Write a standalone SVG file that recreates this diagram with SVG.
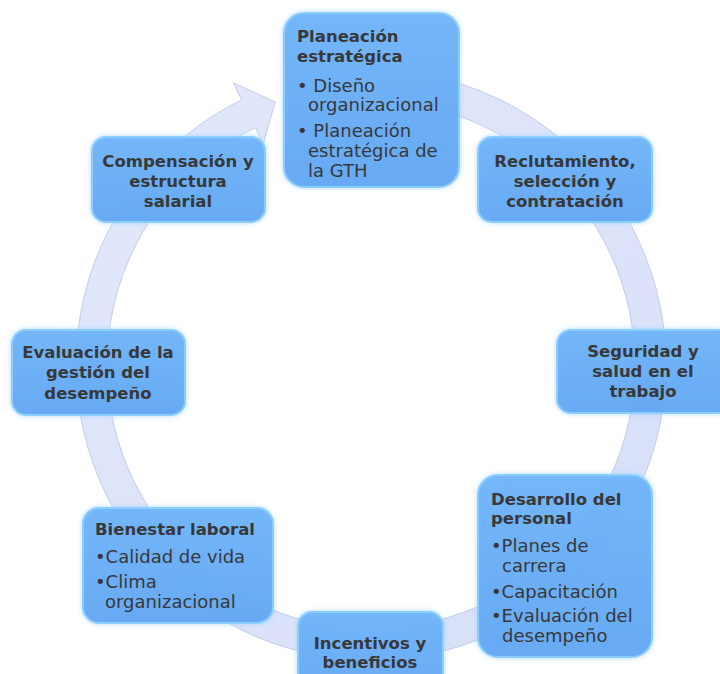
<svg xmlns="http://www.w3.org/2000/svg" width="720" height="674" viewBox="0 0 720 674">
  <defs>
    <linearGradient id="boxFill" x1="0" y1="0" x2="0" y2="1">
      <stop offset="0" stop-color="#6ab1f8"/>
      <stop offset="1" stop-color="#5aa2f2"/>
    </linearGradient>
    <linearGradient id="ringFill" x1="0" y1="0" x2="1" y2="1">
      <stop offset="0" stop-color="#dfe6fb"/>
      <stop offset="1" stop-color="#d2dbf6"/>
    </linearGradient>
    <filter id="glow" x="-15%" y="-15%" width="130%" height="130%">
      <feGaussianBlur in="SourceAlpha" stdDeviation="2.5" result="b"/>
      <feFlood flood-color="#9fd4ff" flood-opacity="0.9"/>
      <feComposite in2="b" operator="in" result="g"/>
      <feMerge>
        <feMergeNode in="g"/>
        <feMergeNode in="SourceGraphic"/>
      </feMerge>
    </filter>
  </defs>
  <style>
    .box { fill: url(#boxFill); fill-opacity: 0.88; stroke: #8ccdff; stroke-width: 2; filter: url(#glow); }
    .t { font-family: "DejaVu Sans", "Liberation Sans", sans-serif; fill: #383838; }
    .h { font-size: 16.5px; font-weight: bold; }
    .b { font-size: 18px; }
    .c { text-anchor: middle; }
  </style>

  <rect width="720" height="674" fill="#ffffff"/>

  <!-- circular arrow running clockwise round the cycle -->
  <g id="connectors">
    <path d="M430.8,76.1 A295,295 0 1 1 241.7,99.9 L233.3,82.8 L275.2,101.9 L263.2,143.9 L255.3,127.7 A264,264 0 1 0 424.5,106.5 Z"
          fill="url(#ringFill)" fill-opacity="0.9" stroke="#c3cce9" stroke-width="1"/>
  </g>

  <g id="planeacion">
    <rect class="box" x="284" y="13" width="175" height="174" rx="20"/>
    <text class="t h" x="297" y="42">Planeación</text>
    <text class="t h" x="297" y="62">estratégica</text>
    <text class="t b" x="297" y="92">• Diseño</text>
    <text class="t b" x="308" y="111">organizacional</text>
    <text class="t b" x="297" y="137">• Planeación</text>
    <text class="t b" x="308" y="157">estratégica de</text>
    <text class="t b" x="308" y="177">la GTH</text>
  </g>

  <g id="reclutamiento">
    <rect class="box" x="478" y="137" width="174" height="85" rx="14"/>
    <text class="t h c" x="565" y="167">Reclutamiento,</text>
    <text class="t h c" x="565" y="187">selección y</text>
    <text class="t h c" x="565" y="207">contratación</text>
  </g>

  <g id="seguridad">
    <rect class="box" x="557" y="330" width="175" height="83" rx="14"/>
    <text class="t h c" x="643" y="357">Seguridad y</text>
    <text class="t h c" x="643" y="377">salud en el</text>
    <text class="t h c" x="643" y="397">trabajo</text>
  </g>

  <g id="desarrollo">
    <rect class="box" x="478" y="475" width="174" height="182" rx="20"/>
    <text class="t h" x="491" y="505">Desarrollo del</text>
    <text class="t h" x="491" y="524">personal</text>
    <text class="t b" x="491" y="552">•Planes de</text>
    <text class="t b" x="502" y="572">carrera</text>
    <text class="t b" x="491" y="598">•Capacitación</text>
    <text class="t b" x="491" y="622">•Evaluación del</text>
    <text class="t b" x="502" y="642">desempeño</text>
  </g>

  <g id="incentivos">
    <rect class="box" x="298" y="612" width="145" height="90" rx="14"/>
    <text class="t h c" x="370" y="649">Incentivos y</text>
    <text class="t h c" x="370" y="668">beneficios</text>
  </g>

  <g id="bienestar">
    <rect class="box" x="83" y="508" width="190" height="115" rx="16"/>
    <text class="t h" x="95" y="535">Bienestar laboral</text>
    <text class="t b" x="95" y="563">•Calidad de vida</text>
    <text class="t b" x="95" y="588">•Clima</text>
    <text class="t b" x="105" y="608">organizacional</text>
  </g>

  <g id="evaluacion">
    <rect class="box" x="12" y="330" width="173" height="85" rx="14"/>
    <text class="t h c" x="98" y="358">Evaluación de la</text>
    <text class="t h c" x="98" y="378">gestión del</text>
    <text class="t h c" x="98" y="399">desempeño</text>
  </g>

  <g id="compensacion">
    <rect class="box" x="92" y="137" width="173" height="85" rx="14"/>
    <text class="t h c" x="178" y="167">Compensación y</text>
    <text class="t h c" x="178" y="187">estructura</text>
    <text class="t h c" x="178" y="207">salarial</text>
  </g>
</svg>
